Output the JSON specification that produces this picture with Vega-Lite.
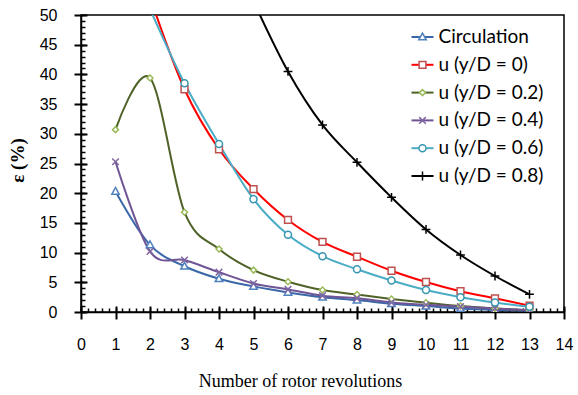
{
  "$schema": "https://vega.github.io/schema/vega-lite/v6.json",
  "width": 483,
  "height": 297,
  "autosize": {"type": "none"},
  "padding": {"left": 81, "top": 15, "right": 14, "bottom": 83},
  "background": "white",
  "config": {
    "view": {"stroke": "black", "strokeWidth": 1.5},
    "axis": {"labelFont": "Liberation Sans", "labelFontSize": 16, "labelColor": "black", "titleColor": "black", "domainColor": "black", "domainWidth": 1.5, "ticks": true, "tickColor": "black", "tickWidth": 2, "tickOpacity": 1}
  },
  "data": {"values": [
    {"series": "Circulation", "rev": 1, "eps": 20.3},
    {"series": "Circulation", "rev": 2, "eps": 11.3},
    {"series": "Circulation", "rev": 3, "eps": 7.7},
    {"series": "Circulation", "rev": 4, "eps": 5.6},
    {"series": "Circulation", "rev": 5, "eps": 4.3},
    {"series": "Circulation", "rev": 6, "eps": 3.3},
    {"series": "Circulation", "rev": 7, "eps": 2.5},
    {"series": "Circulation", "rev": 8, "eps": 2.0},
    {"series": "Circulation", "rev": 9, "eps": 1.4},
    {"series": "Circulation", "rev": 10, "eps": 1.0},
    {"series": "Circulation", "rev": 11, "eps": 0.6},
    {"series": "Circulation", "rev": 12, "eps": 0.35},
    {"series": "Circulation", "rev": 13, "eps": 0.2},
    {"series": "u (y/D = 0)", "rev": 2, "eps": 53},
    {"series": "u (y/D = 0)", "rev": 3, "eps": 37.5},
    {"series": "u (y/D = 0)", "rev": 4, "eps": 27.4},
    {"series": "u (y/D = 0)", "rev": 5, "eps": 20.7},
    {"series": "u (y/D = 0)", "rev": 6, "eps": 15.5},
    {"series": "u (y/D = 0)", "rev": 7, "eps": 11.8},
    {"series": "u (y/D = 0)", "rev": 8, "eps": 9.3},
    {"series": "u (y/D = 0)", "rev": 9, "eps": 6.95},
    {"series": "u (y/D = 0)", "rev": 10, "eps": 5.05},
    {"series": "u (y/D = 0)", "rev": 11, "eps": 3.5},
    {"series": "u (y/D = 0)", "rev": 12, "eps": 2.3},
    {"series": "u (y/D = 0)", "rev": 13, "eps": 1.05},
    {"series": "u (y/D = 0.2)", "rev": 1, "eps": 30.7},
    {"series": "u (y/D = 0.2)", "rev": 2, "eps": 39.4},
    {"series": "u (y/D = 0.2)", "rev": 3, "eps": 16.8},
    {"series": "u (y/D = 0.2)", "rev": 4, "eps": 10.6},
    {"series": "u (y/D = 0.2)", "rev": 5, "eps": 7.05},
    {"series": "u (y/D = 0.2)", "rev": 6, "eps": 5.1},
    {"series": "u (y/D = 0.2)", "rev": 7, "eps": 3.7},
    {"series": "u (y/D = 0.2)", "rev": 8, "eps": 2.95},
    {"series": "u (y/D = 0.2)", "rev": 9, "eps": 2.2},
    {"series": "u (y/D = 0.2)", "rev": 10, "eps": 1.55},
    {"series": "u (y/D = 0.2)", "rev": 11, "eps": 1.0},
    {"series": "u (y/D = 0.2)", "rev": 12, "eps": 0.6},
    {"series": "u (y/D = 0.2)", "rev": 13, "eps": 0.3},
    {"series": "u (y/D = 0.4)", "rev": 1, "eps": 25.3},
    {"series": "u (y/D = 0.4)", "rev": 2, "eps": 10.2},
    {"series": "u (y/D = 0.4)", "rev": 3, "eps": 8.75},
    {"series": "u (y/D = 0.4)", "rev": 4, "eps": 6.7},
    {"series": "u (y/D = 0.4)", "rev": 5, "eps": 4.8},
    {"series": "u (y/D = 0.4)", "rev": 6, "eps": 3.8},
    {"series": "u (y/D = 0.4)", "rev": 7, "eps": 2.75},
    {"series": "u (y/D = 0.4)", "rev": 8, "eps": 2.3},
    {"series": "u (y/D = 0.4)", "rev": 9, "eps": 1.6},
    {"series": "u (y/D = 0.4)", "rev": 10, "eps": 1.2},
    {"series": "u (y/D = 0.4)", "rev": 11, "eps": 0.9},
    {"series": "u (y/D = 0.4)", "rev": 12, "eps": 0.6},
    {"series": "u (y/D = 0.4)", "rev": 13, "eps": 0.3},
    {"series": "u (y/D = 0.6)", "rev": 2, "eps": 51},
    {"series": "u (y/D = 0.6)", "rev": 3, "eps": 38.5},
    {"series": "u (y/D = 0.6)", "rev": 4, "eps": 28.3},
    {"series": "u (y/D = 0.6)", "rev": 5, "eps": 19.0},
    {"series": "u (y/D = 0.6)", "rev": 6, "eps": 13.0},
    {"series": "u (y/D = 0.6)", "rev": 7, "eps": 9.4},
    {"series": "u (y/D = 0.6)", "rev": 8, "eps": 7.2},
    {"series": "u (y/D = 0.6)", "rev": 9, "eps": 5.3},
    {"series": "u (y/D = 0.6)", "rev": 10, "eps": 3.7},
    {"series": "u (y/D = 0.6)", "rev": 11, "eps": 2.5},
    {"series": "u (y/D = 0.6)", "rev": 12, "eps": 1.6},
    {"series": "u (y/D = 0.6)", "rev": 13, "eps": 0.9},
    {"series": "u (y/D = 0.8)", "rev": 5, "eps": 52.3},
    {"series": "u (y/D = 0.8)", "rev": 6, "eps": 40.5},
    {"series": "u (y/D = 0.8)", "rev": 7, "eps": 31.5},
    {"series": "u (y/D = 0.8)", "rev": 8, "eps": 25.2},
    {"series": "u (y/D = 0.8)", "rev": 9, "eps": 19.3},
    {"series": "u (y/D = 0.8)", "rev": 10, "eps": 13.9},
    {"series": "u (y/D = 0.8)", "rev": 11, "eps": 9.6},
    {"series": "u (y/D = 0.8)", "rev": 12, "eps": 6.06},
    {"series": "u (y/D = 0.8)", "rev": 13, "eps": 2.97}
  ]},
  "resolve": {"axis": {"x": "independent", "y": "independent"}},
  "layer": [
    {
      "mark": {"type": "line", "interpolate": "cardinal", "tension": 0, "clip": true, "strokeWidth": 2},
      "encoding": {
        "x": {"field": "rev", "type": "quantitative", "scale": {"domain": [0, 14], "nice": false},
          "axis": {"orient": "bottom", "values": [0,0.2,0.4,0.6,0.8,1,1.2,1.4,1.6,1.8,2,2.2,2.4,2.6,2.8,3,3.2,3.4,3.6,3.8,4,4.2,4.4,4.6,4.8,5,5.2,5.4,5.6,5.8,6,6.2,6.4,6.6,6.8,7,7.2,7.4,7.6,7.8,8,8.2,8.4,8.6,8.8,9,9.2,9.4,9.6,9.8,10,10.2,10.4,10.6,10.8,11,11.2,11.4,11.6,11.8,12,12.2,12.4,12.6,12.8,13,13.2,13.4,13.6,13.8,14],
            "labels": false, "ticks": false, "title": null, "domain": true,
            "grid": true, "gridColor": "black", "gridWidth": 1.5, "gridOpacity": 1, "gridDash": [4, 1000], "gridDashOffset": 711}},
        "y": {"field": "eps", "type": "quantitative", "scale": {"domain": [0, 50], "nice": false},
          "axis": {"orient": "left", "values": [0,1,2,3,4,5,6,7,8,9,10,11,12,13,14,15,16,17,18,19,20,21,22,23,24,25,26,27,28,29,30,31,32,33,34,35,36,37,38,39,40,41,42,43,44,45,46,47,48,49,50],
            "labels": false, "ticks": false, "title": null, "domain": true,
            "grid": true, "gridColor": "black", "gridWidth": 1.5, "gridOpacity": 1, "gridDash": [4, 1000]}},
        "color": {"field": "series", "type": "nominal",
          "scale": {"range": ["#3A68A8", "#FF0000", "#4F6228", "#6F5595", "#4BACC6", "#000000"]},
          "legend": {"orient": "none", "legendX": 329.5, "legendY": 10, "title": null, "padding": 0,
            "symbolType": "stroke", "symbolSize": 484, "symbolStrokeWidth": 2,
            "labelFont": "Lato", "labelFontSize": 19, "labelColor": "black", "labelOffset": 4, "rowPadding": 5.8, "labelLimit": 300}}
      }
    },
    {
      "mark": {"type": "point", "clip": true, "filled": false, "fill": "white", "fillOpacity": 1, "strokeWidth": 1.5, "size": 484, "opacity": 1},
      "encoding": {
        "x": {"field": "rev", "type": "quantitative",
          "axis": {"orient": "bottom", "values": [0,1,2,3,4,5,6,7,8,9,10,11,12,13,14], "format": "d", "domain": false, "ticks": true, "tickSize": 7, "tickColor": "black", "tickWidth": 2,
            "grid": true, "gridColor": "black", "gridWidth": 2, "gridOpacity": 1, "gridDash": [6, 1000], "gridDashOffset": 715,
            "labelOverlap": false, "labelFlush": false, "labelPadding": 17,
            "title": "Number of rotor revolutions", "titleFont": "Liberation Serif", "titleFontSize": 18, "titleFontWeight": "normal",
            "titleX": 219, "titleY": 69, "titleBaseline": "middle"}},
        "y": {"field": "eps", "type": "quantitative",
          "axis": {"orient": "left", "values": [0,5,10,15,20,25,30,35,40,45,50], "format": "d", "domain": false, "ticks": true, "tickSize": 7, "tickColor": "black", "tickWidth": 2,
            "grid": true, "gridColor": "black", "gridWidth": 2, "gridOpacity": 1, "gridDash": [6, 1000],
            "labelOverlap": false, "labelFlush": false, "labelPadding": 17,
            "title": "ε (%)", "titleFont": "Liberation Serif", "titleFontSize": 19, "titleFontWeight": "bold",
            "titleX": -64, "titleY": 145, "titleAngle": -90, "titleBaseline": "middle", "titleAlign": "center"}},
        "stroke": {"field": "series", "type": "nominal",
          "scale": {"domain": ["Circulation", "u (y/D = 0)", "u (y/D = 0.2)", "u (y/D = 0.4)", "u (y/D = 0.6)", "u (y/D = 0.8)"],
                    "range": ["#4F81BD", "#C0504D", "#9BBB59", "#8064A2", "#3796B0", "#000000"]},
          "legend": {"orient": "none", "legendX": 329.5, "legendY": 10, "title": null, "padding": 0,
            "symbolSize": 484, "symbolStrokeWidth": 1.5, "symbolFillColor": "white",
            "labelFont": "Lato", "labelFontSize": 19, "labelOpacity": 0, "labelOffset": 4, "rowPadding": 5.8, "labelLimit": 300}},
        "shape": {"field": "series", "type": "nominal",
          "scale": {"domain": ["Circulation", "u (y/D = 0)", "u (y/D = 0.2)", "u (y/D = 0.4)", "u (y/D = 0.6)", "u (y/D = 0.8)"],
                    "range": ["M0,-0.36L0.34,0.26L-0.34,0.26Z", "M-0.31,-0.31H0.31V0.31H-0.31Z", "M0,-0.27L0.27,0L0,0.27L-0.27,0Z", "M-0.3,-0.3L0.3,0.3M-0.3,0.3L0.3,-0.3", "M0.32,0A0.32,0.32 0 1,1 -0.32,0A0.32,0.32 0 1,1 0.32,0Z", "M-0.4,0H0.4M0,-0.4V0.4"]},
          "legend": {"orient": "none", "legendX": 329.5, "legendY": 10, "title": null, "padding": 0,
            "symbolSize": 484, "symbolStrokeWidth": 1.5, "symbolFillColor": "white",
            "labelFont": "Lato", "labelFontSize": 19, "labelOpacity": 0, "labelOffset": 4, "rowPadding": 5.8, "labelLimit": 300}}
      }
    }
  ]
}
